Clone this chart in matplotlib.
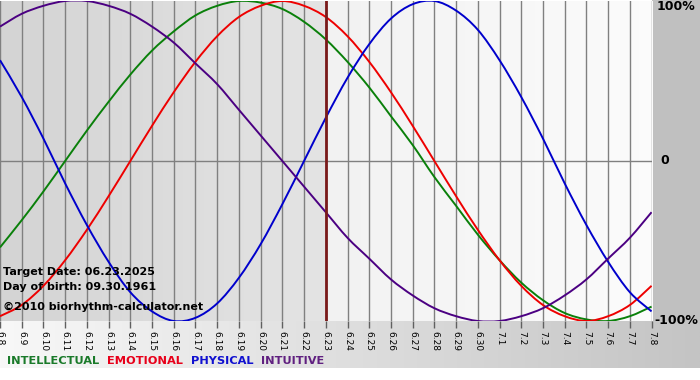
import numpy as np
import matplotlib
matplotlib.use("Agg")
import matplotlib.pyplot as plt
from matplotlib.path import Path
from matplotlib.patches import PathPatch

# days shown (June 8 .. July 8)
day_labels = ["6.8", "6.9", "6.10", "6.11", "6.12", "6.13", "6.14", "6.15", "6.16", "6.17",
              "6.18", "6.19", "6.20", "6.21", "6.22", "6.23", "6.24", "6.25", "6.26", "6.27",
              "6.28", "6.29", "6.30", "7.1", "7.2", "7.3", "7.4", "7.5", "7.6", "7.7", "7.8"]
target_idx = 15

# cycle values, one per day (-1 .. 1)
intellectual = [-0.54, -0.37, -0.19, 0.00, 0.19, 0.37, 0.54, 0.69, 0.81, 0.91,
                0.97, 1.00, 0.99, 0.95, 0.87, 0.76, 0.62, 0.46, 0.28, 0.10,
                -0.10, -0.28, -0.46, -0.62, -0.76, -0.87, -0.95, -0.99, -1.00, -0.97, -0.91]
emotional = [-0.97, -0.90, -0.78, -0.62, -0.43, -0.22, 0.00, 0.22, 0.43, 0.62,
             0.78, 0.90, 0.97, 1.00, 0.97, 0.90, 0.78, 0.62, 0.43, 0.22,
             0.00, -0.22, -0.43, -0.62, -0.78, -0.90, -0.97, -1.00, -0.97, -0.90, -0.78]
physical = [0.63, 0.40, 0.14, -0.14, -0.40, -0.63, -0.82, -0.94, -1.00, -0.98,
            -0.89, -0.73, -0.52, -0.27, 0.00, 0.27, 0.52, 0.73, 0.89, 0.98,
            1.00, 0.94, 0.82, 0.63, 0.40, 0.14, -0.14, -0.40, -0.63, -0.82, -0.94]
intuitive = [0.84, 0.92, 0.97, 1.00, 1.00, 0.97, 0.92, 0.84, 0.74, 0.61,
             0.48, 0.32, 0.16, 0.00, -0.16, -0.32, -0.48, -0.61, -0.74, -0.84,
             -0.92, -0.97, -1.00, -1.00, -0.97, -0.92, -0.84, -0.74, -0.61, -0.48, -0.32]

series = [("INTELLECTUAL", intellectual, "#0a800a", "#1a7a2a"),
          ("EMOTIONAL", emotional, "#ee0000", "#e8001a"),
          ("PHYSICAL", physical, "#0000cc", "#1010d0"),
          ("INTUITIVE", intuitive, "#4b0082", "#602080")]


def smooth_path(xs, ys):
    # Catmull-Rom through the points, drawn as cubic Bezier segments
    pts = np.column_stack([xs, ys]).astype(float)
    verts = [pts[0]]
    codes = [Path.MOVETO]
    for i in range(len(pts) - 1):
        p0 = pts[i - 1] if i > 0 else pts[i]
        p1, p2 = pts[i], pts[i + 1]
        p3 = pts[i + 2] if i + 2 < len(pts) else pts[i + 1]
        verts += [p1 + (p2 - p0) / 6, p2 - (p3 - p1) / 6, p2]
        codes += [Path.CURVE4] * 3
    return Path(verts, codes)


W, H = 700, 380
fig = plt.figure(figsize=(7, 3.8), dpi=100)
fig.patch.set_facecolor("white")

# background panels in pixel coordinates
bg = fig.add_axes([0, 0, 1, 1], zorder=0)
bg.set_xlim(0, W)
bg.set_ylim(H, 0)
bg.axis("off")
grad = np.linspace(0, 1, 256)[None, :]
bottom_cmap = matplotlib.colors.LinearSegmentedColormap.from_list("b", ["#f8f8f8", "#c4c4c4"])
bg.imshow(grad, cmap=bottom_cmap, extent=[0, W, 368, 321], aspect="auto")
bg.add_patch(plt.Rectangle((652, 0), W - 652, 321, color="#c0c0c0", lw=0))

ax = fig.add_axes([0, 59 / H, 652 / W, 320 / H], zorder=1)
n = len(day_labels)
x = np.arange(n)
ax.set_xlim(0, n - 1 + 0.02)
ax.set_ylim(-1.0, 1.0)

left_cmap = matplotlib.colors.LinearSegmentedColormap.from_list("l", ["#d4d4d4", "#e4e4e4"])
right_cmap = matplotlib.colors.LinearSegmentedColormap.from_list("r", ["#f2f2f2", "#fcfcfc"])
ax.imshow(grad, cmap=left_cmap, extent=[0, target_idx, -1, 1], aspect="auto", zorder=0)
ax.imshow(grad, cmap=right_cmap, extent=[target_idx, n, -1, 1], aspect="auto", zorder=0)

for xi in x:
    ax.axvline(xi, color="#808080", lw=1.0, zorder=1)
ax.axhline(0, color="#808080", lw=1.0, zorder=1)

for name, vals, c, _ in series:
    ax.add_patch(PathPatch(smooth_path(x, vals), facecolor="none", edgecolor=c,
                           lw=1.4, zorder=3))

ax.axvline(target_idx, color="#7a1a1a", lw=2.0, zorder=4)

for s in ax.spines.values():
    s.set_visible(False)
ax.set_xticks(x)
ax.set_xticklabels(day_labels, rotation=270, fontsize=6.5, family="DejaVu Sans")
ax.tick_params(axis="x", length=5, width=1, color="#606060", pad=2)
ax.set_yticks([])

fs = 8
txt = [("Target Date: 06.23.2025", 272), ("Day of birth: 09.30.1961", 287),
       ("\u00a92010 biorhythm-calculator.net", 307)]
for t, yp in txt:
    fig.text(3 / W, 1 - yp / H, t, fontsize=fs, fontweight="bold", va="center", ha="left")

for t, yp, xp in [("100%", 7, 657), ("0", 161, 660), ("-100%", 321, 654)]:
    fig.text(xp / W, 1 - yp / H, t, fontsize=9, fontweight="bold", va="center", ha="left")

xp = 7
for name, vals, _, lc in series:
    tt = fig.text(xp / W, 1 - 361 / H, name, fontsize=8.2, fontweight="bold", color=lc,
                  va="center", ha="left")
    fig.canvas.draw()
    bb = tt.get_window_extent()
    xp += bb.width + 8

fig.savefig("out.png", dpi=100)
